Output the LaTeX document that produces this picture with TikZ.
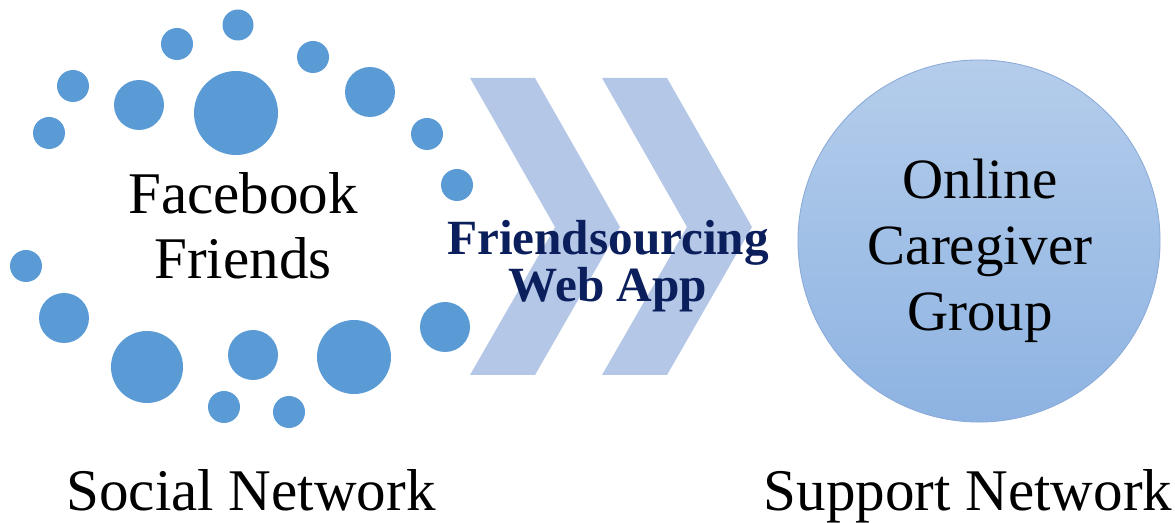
\documentclass[tikz,border=0pt]{standalone}
\usepackage{fontspec}
\setmainfont{Liberation Serif}

\definecolor{dotblue}{HTML}{5B9BD5}
\definecolor{chevblue}{HTML}{B4C7E7}
\definecolor{appnavy}{HTML}{0B1F5C}
\definecolor{circtop}{HTML}{B5CDEB}
\definecolor{circbot}{HTML}{8DB3E2}
\definecolor{circedge}{HTML}{8AAAD8}

\tikzset{
    bigtext/.style={font=\fontsize{42}{46}\selectfont, align=center, inner sep=0pt},
    grouptext/.style={font=\fontsize{40.5}{47}\selectfont, align=center, inner sep=0pt},
    apptext/.style={font=\bfseries\fontsize{35}{33}\selectfont, text=appnavy, align=center, inner sep=0pt},
    groupcircle/.style={circle, minimum size=9.05cm, inner sep=0pt,
        top color=circtop, bottom color=circbot, draw=circedge, line width=0.6pt},
    chevron/.style={fill=chevblue}
}

\begin{document}
\begin{tikzpicture}[x=0.025cm, y=-0.025cm]
    \useasboundingbox (0,0) rectangle (1175,523);

    % Friends as dots
    \foreach \x/\y/\r in {238/25/15.5, 177/44/16, 313/57/16, 73/86/16, 139/105/25,
                          236/113/42, 370/92/25, 49/133/16, 427/134/16, 457/185/16,
                          26/266/16, 64/318/25, 147/367/36, 253/355/25, 354/357/37,
                          445/327/25, 224/407/16, 289/412/16} {
        \fill[dotblue] (\x,\y) circle[radius=\r];
    }
    \node[bigtext] (friends) at (243,226) {Facebook\\Friends};

    % Web app chevrons
    \foreach \dx in {0,132} {
        \fill[chevron] (470+\dx,78) -- (535+\dx,78) -- (620+\dx,227)
            -- (535+\dx,375) -- (470+\dx,375) -- (555+\dx,227) -- cycle;
    }
    \node[apptext] (webapp) at (608,266) {Friendsourcing\\Web App};

    % Caregiver group
    \node[groupcircle] (group) at (979,241) {};
    \node[grouptext] (grouplabel) at (980,251) {Online\\Caregiver\\Group};

    % Network names
    \node[bigtext, anchor=base] (social) at (251,510) {Social Network};
    \node[bigtext, anchor=base] (support) at (968,510) {Support Network};
\end{tikzpicture}
\end{document}
